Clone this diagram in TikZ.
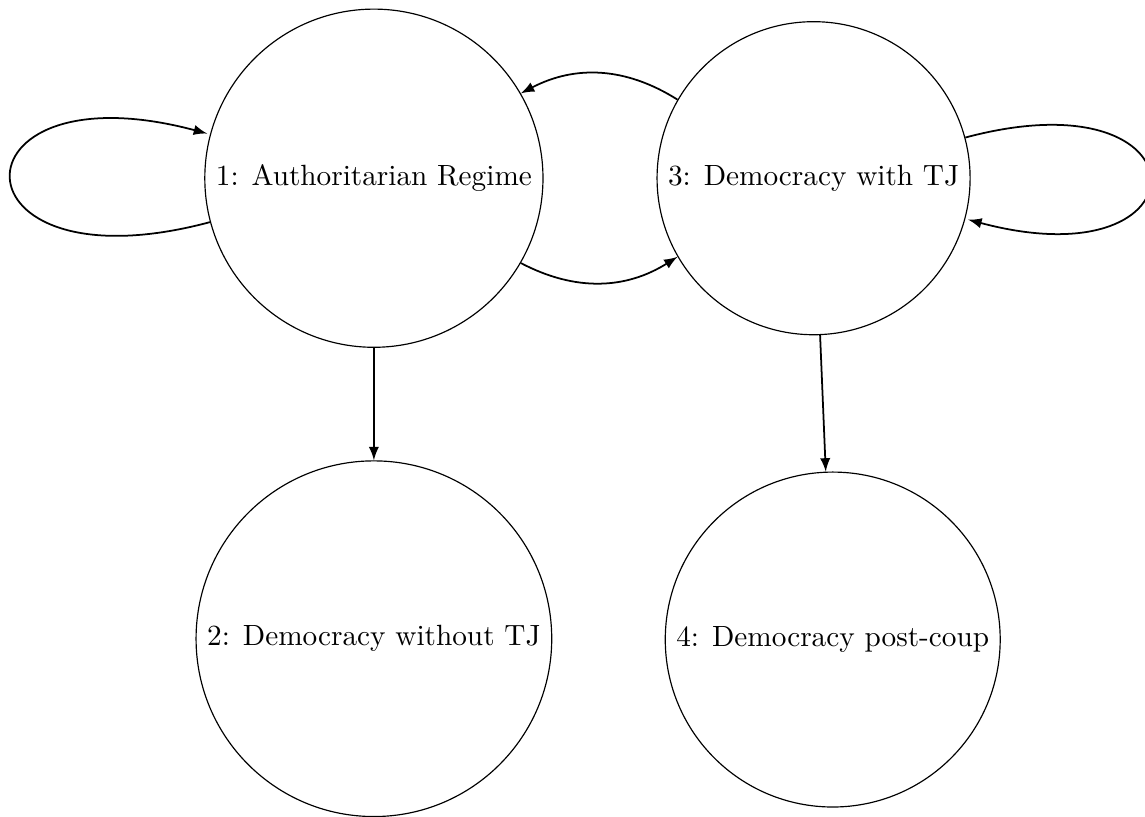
\documentclass[tikz,border=0pt]{standalone}
\usepackage{tikz}
\usetikzlibrary{arrows}
\tikzstyle{state}=[circle, draw]
\newcommand{\state}{\node[state]}

\begin{document}
\begin{tikzpicture}[x=1cm, y=1cm, >=latex
    ,every edge/.style={draw, ->, semithick}
]
\useasboundingbox (-4.49,2.14) rectangle (9.26,-7.67);
\state (auth) at (0,0) {1: Authoritarian Regime};
\state (tj) at (5.28,0) {3: Democracy with TJ};
\state (notj) at (0,-5.53) {2: Democracy without TJ};
\state (coup) at (5.51,-5.54) {4: Democracy post-coup};
\path
(auth) edge [out=195, in=165, loop] (auth)
       edge [bend right] (tj)
       edge (notj)
(tj) edge [bend right] (auth)
     edge [loop right] (tj)
     edge (coup)
;
\end{tikzpicture}
\end{document}
